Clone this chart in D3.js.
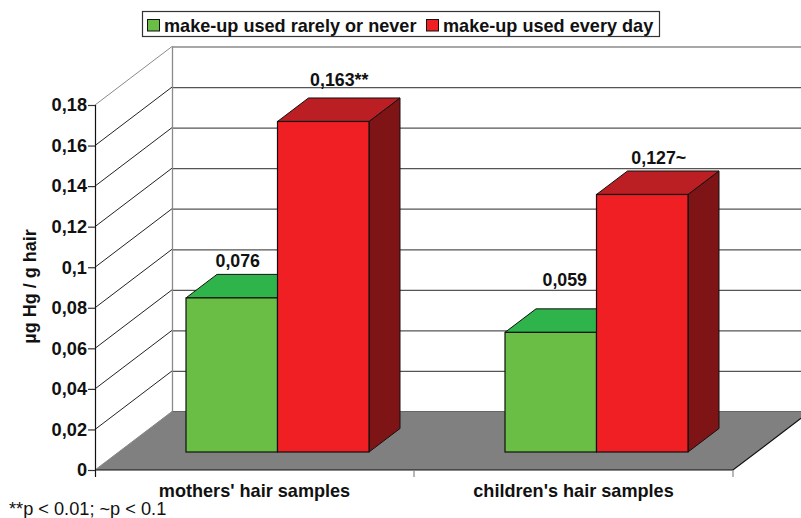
<!DOCTYPE html>
<html>
<head>
<meta charset="utf-8">
<script src="https://cdn.jsdelivr.net/npm/d3@7/dist/d3.min.js"></script>
<style>
  html, body { margin: 0; padding: 0; background: #fff; }
  svg { display: block; }
  text { font-family: "Liberation Sans", Arial, sans-serif; fill: #111; }
  .bold { font-weight: 700; }
</style>
</head>
<body>
<svg id="chart" width="801" height="518"></svg>
<script>
const categories = ["mothers' hair samples", "children's hair samples"];
const seriesNames = ["make-up used rarely or never", "make-up used every day"];
const rarelyValues = [0.076, 0.059];
const dailyValues = [0.163, 0.127];
const valueLabels = [["0,076", "0,059"], ["0,163**", "0,127~"]];
const yTickValues = [0, 0.02, 0.04, 0.06, 0.08, 0.1, 0.12, 0.14, 0.16, 0.18];
const yTickLabels = ["0", "0,02", "0,04", "0,06", "0,08", "0,1", "0,12", "0,14", "0,16", "0,18"];
const yTitle = "µg Hg / g hair";
const footnote = "**p < 0.01; ~p < 0.1";

const svg = d3.select("#chart");
const values = [rarelyValues, dailyValues];

// Front plane of the 3D box, and the oblique offset to its back wall.
const y = d3.scaleLinear().domain([0, 0.18]).range([470, 105]);
const x = d3.scaleBand().domain(categories).range([95, 733]);
const depthX = 77, depthY = 58.5;
const backTop = y(0.18) - depthY;

// Bars stand part way into the floor and have a shallower depth of their own.
const barInsetX = 24, barInsetY = 18;
const barDepthX = 31, barDepthY = 23.5;
const barWidth = 91.5;
const barStart = 67;

const colors = {
  front: ["#6abd45", "#ef1f24"],
  top: ["#2fb44b", "#bb1e23"],
  side: ["#1c7a30", "#7f1416"]
};

svg.append("clipPath").attr("id", "plot-clip").append("rect")
  .attr("width", 801).attr("height", 518);

const plot = svg.append("g").attr("clip-path", "url(#plot-clip)");

// Floor
const floorY = y(0);
plot.append("path")
  .attr("d", d3.line()([
    [95, floorY], [733, floorY],
    [733 + depthX, floorY - depthY], [95 + depthX, floorY - depthY]
  ]) + "Z")
  .attr("fill", "#808080");
plot.append("path")
  .attr("d", d3.line()([[95 + depthX, floorY - depthY], [733 + depthX, floorY - depthY]]))
  .attr("stroke", "#666").attr("stroke-width", 1).attr("fill", "none");
plot.append("path")
  .attr("d", d3.line()([[95, floorY], [733, floorY], [733 + depthX, floorY - depthY]]))
  .attr("stroke", "#111").attr("stroke-width", 1.2).attr("fill", "none");

// Back wall grid and the matching diagonals on the side wall
const gridTicks = yTickValues.slice(1);
plot.selectAll("line.back").data(gridTicks).join("line")
  .attr("class", "back")
  .attr("x1", 95 + depthX).attr("x2", 801)
  .attr("y1", d => y(d) - depthY + 0.5).attr("y2", d => y(d) - depthY + 0.5)
  .attr("stroke", d => d === 0.18 ? "#8a8a8a" : "#555")
  .attr("stroke-width", 1.3);
plot.selectAll("line.side").data(gridTicks).join("line")
  .attr("class", "side")
  .attr("x1", 95).attr("x2", 95 + depthX)
  .attr("y1", d => y(d)).attr("y2", d => y(d) - depthY)
  .attr("stroke", d => d === 0.18 ? "#8a8a8a" : "#222")
  .attr("stroke-width", 1);
plot.append("line")
  .attr("x1", 95).attr("x2", 95 + depthX)
  .attr("y1", floorY).attr("y2", floorY - depthY)
  .attr("stroke", "#888").attr("stroke-width", 1);
plot.append("line")
  .attr("x1", 95 + depthX + 0.5).attr("x2", 95 + depthX + 0.5)
  .attr("y1", backTop).attr("y2", floorY - depthY)
  .attr("stroke", "#8a8a8a").attr("stroke-width", 1.3);

// Bars: the red one of each pair overlaps the top-right of the green one
const bars = [];
categories.forEach((cat, ci) => {
  seriesNames.forEach((name, si) => bars.push({ cat, ci, si, value: values[si][ci] }));
});
const bar = plot.selectAll("g.bar").data(bars).join("g").attr("class", "bar");
const barX0 = d => x(d.cat) + barInsetX + barStart + d.si * barWidth;
const barBase = floorY - barInsetY;
const barTop = d => barBase - (floorY - y(d.value));

bar.append("path")
  .attr("d", d => d3.line()([
    [barX0(d) + barWidth, barTop(d)],
    [barX0(d) + barWidth + barDepthX, barTop(d) - barDepthY],
    [barX0(d) + barWidth + barDepthX, barBase - barDepthY],
    [barX0(d) + barWidth, barBase]
  ]) + "Z")
  .attr("fill", d => colors.side[d.si]).attr("stroke", "#111").attr("stroke-width", 1);
bar.append("path")
  .attr("d", d => d3.line()([
    [barX0(d), barTop(d)],
    [barX0(d) + barDepthX, barTop(d) - barDepthY],
    [barX0(d) + barWidth + barDepthX, barTop(d) - barDepthY],
    [barX0(d) + barWidth, barTop(d)]
  ]) + "Z")
  .attr("fill", d => colors.top[d.si]).attr("stroke", "#111").attr("stroke-width", 1);
bar.append("rect")
  .attr("x", barX0).attr("y", barTop)
  .attr("width", barWidth).attr("height", d => barBase - barTop(d))
  .attr("fill", d => colors.front[d.si]).attr("stroke", "#111").attr("stroke-width", 1.2);

// Value labels sit just above each bar's back edge
const labelShift = [[[6, -7], [14, -23]], [[16, -12], [16.5, -6.5]]];
bar.append("text").attr("class", "bold")
  .attr("text-anchor", "middle").attr("font-size", 17.8)
  .attr("x", d => barX0(d) + barWidth / 2 + labelShift[d.si][d.ci][0])
  .attr("y", d => barTop(d) - barDepthY + labelShift[d.si][d.ci][1])
  .text(d => valueLabels[d.si][d.ci]);

// Value axis
const yAxis = d3.axisLeft(y).tickValues(yTickValues)
  .tickFormat((d, i) => yTickLabels[i]).tickSize(7).tickSizeOuter(0).tickPadding(1);
const yG = svg.append("g").attr("transform", "translate(95,0)").call(yAxis);
yG.select(".domain").attr("stroke", "#111").attr("stroke-width", 1.2)
  .attr("d", `M0.5,${y(0.18)}V${floorY + 7}`);
yG.selectAll(".tick line").attr("stroke", "#333").attr("stroke-width", 1.2);
yG.selectAll(".tick text").attr("class", "bold").attr("font-size", 18.2)
  .attr("font-family", null).attr("fill", null);

// Category axis
const xAxis = d3.axisBottom(x).tickSize(0).tickPadding(14);
const xG = svg.append("g").attr("transform", `translate(0,${floorY})`).call(xAxis);
xG.select(".domain").remove();
xG.selectAll(".tick text").attr("class", "bold").attr("font-size", 18.1)
  .attr("font-family", null).attr("fill", null);
svg.selectAll("line.xtick").data([x.range()[0] + x.bandwidth(), x.range()[1]]).join("line")
  .attr("class", "xtick")
  .attr("x1", d => d).attr("x2", d => d)
  .attr("y1", floorY).attr("y2", floorY + 7)
  .attr("stroke", "#888").attr("stroke-width", 1.2);

// Axis title
svg.append("text").attr("class", "bold")
  .attr("transform", "translate(36,286.5) rotate(-90)")
  .attr("text-anchor", "middle").attr("font-size", 18)
  .text(yTitle);

// Footnote
svg.append("text").attr("x", 9).attr("y", 515).attr("font-size", 18.2).text(footnote);

// Legend
const legend = svg.append("g");
legend.append("rect").attr("x", 142.5).attr("y", 11.5).attr("width", 517).attr("height", 25)
  .attr("fill", "#fff").attr("stroke", "#333").attr("stroke-width", 1.2);
const legendX = [147.5, 426.5];
legend.selectAll("rect.key").data(seriesNames).join("rect")
  .attr("class", "key")
  .attr("x", (d, i) => legendX[i]).attr("y", 19.5)
  .attr("width", 12).attr("height", 11.5)
  .attr("fill", (d, i) => colors.front[i]).attr("stroke", "#111").attr("stroke-width", 1);
legend.selectAll("text.name").data(seriesNames).join("text")
  .attr("class", "name bold")
  .attr("x", (d, i) => legendX[i] + 16.5).attr("y", 31.5)
  .attr("font-size", 18.1)
  .text(d => d);
</script>
</body>
</html>
